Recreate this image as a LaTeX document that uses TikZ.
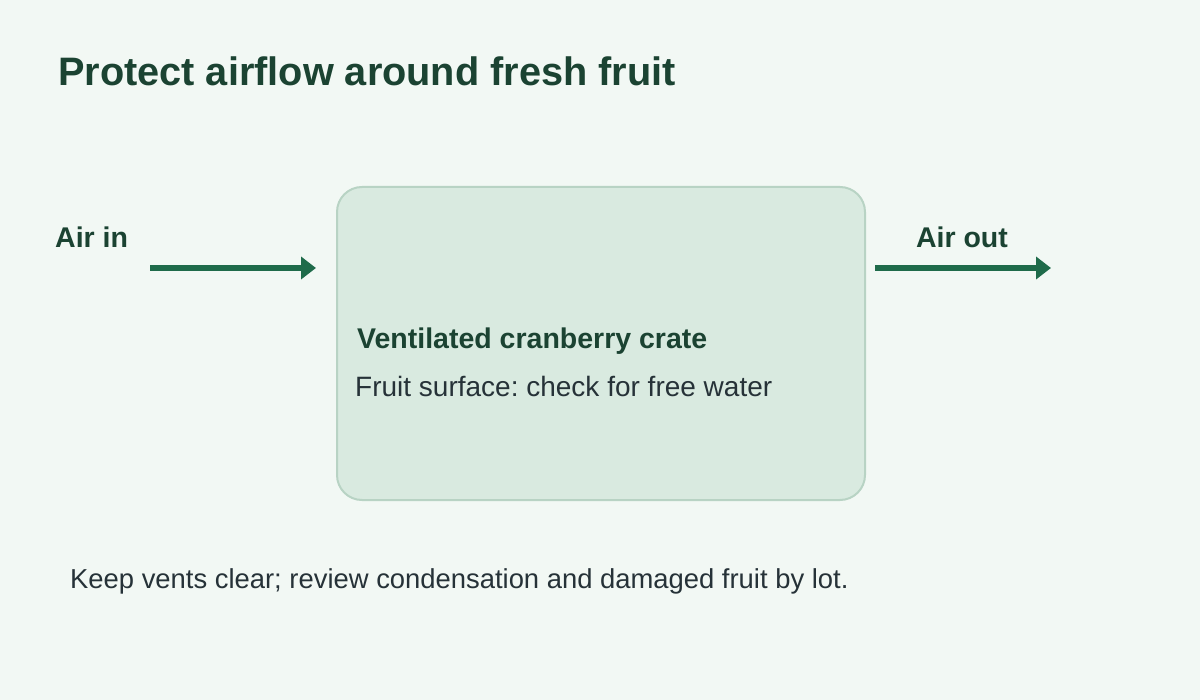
\documentclass[tikz,border=0pt]{standalone}
\usepackage{fontspec}
\setmainfont{Liberation Sans}
\usetikzlibrary{arrows.meta}
\definecolor{bg}{HTML}{F2F8F4}
\definecolor{boxfill}{HTML}{D9EAE0}
\definecolor{boxline}{HTML}{B8D3C4}
\definecolor{arrowc}{HTML}{1F6B4A}
\definecolor{titlec}{HTML}{1B4332}
\definecolor{textc}{HTML}{263238}
\begin{document}
\frenchspacing
\begin{tikzpicture}[x=1pt,y=-1pt,
  lbl/.style={anchor=west,inner sep=0pt,font=\fontsize{28.5}{32}\selectfont\bfseries,text=titlec},
  txt/.style={anchor=west,inner sep=0pt,font=\fontsize{28}{32}\selectfont,text=textc},
  flow/.style={draw=arrowc,line width=5.5pt,-{Triangle[length=15pt,width=22pt]}}]
\fill[bg] (0,0) rectangle (1200,700);
\useasboundingbox (0,0) rectangle (1200,700);
\node[anchor=west,inner sep=0pt,font=\fontsize{39.7}{44}\selectfont\bfseries,text=titlec] (title) at (58,71) {Protect airflow around fresh fruit};
\node[draw=boxline,line width=2pt,fill=boxfill,rounded corners=25pt,minimum width=528pt,minimum height=313pt,anchor=north west] (crate) at (336,186) {};
\node[lbl] (airin) at (55,237) {Air in};
\node[lbl,anchor=center] (airout) at (962,237) {Air out};
\coordinate (a1) at (150,268);
\coordinate (a2) at (316,268);
\coordinate (b1) at (875,268);
\coordinate (b2) at (1051,268);
\draw[flow] (a1) -- (a2);
\draw[flow] (b1) -- (b2);
\node[lbl] (vc) at (357,341) {Ventilated cranberry crate};
\node[txt] (fs) at (355,386) {Fruit surface: check for free water};
\node[txt,font=\fontsize{27.4}{32}\selectfont] (foot) at (70,581) {Keep vents clear; review condensation and damaged fruit by lot.};
\end{tikzpicture}
\end{document}
